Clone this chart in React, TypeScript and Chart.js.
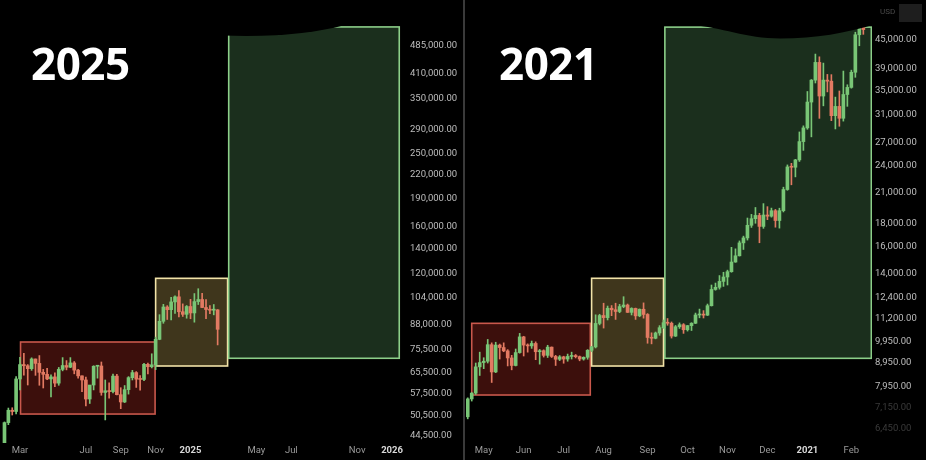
import React, { useEffect, useRef } from "react";
import { Chart, registerables } from "chart.js";

Chart.register(...registerables);

const GREEN = "#79c676";
const RED = "#e27a62";
const MS_DAY = 86400000;

// ---------------- 2025 panel (weekly candles, BTC 2024-25) ----------------
const leftBase = "2024-01-01";
const leftFirstBar = "2024-02-05";
const leftBarDays = 7;
// [open, high, low, close]
const leftCandles: number[][] = [
  [42600, 48500, 42200, 48300],
  [48300, 52800, 47700, 52100],
  [52100, 52900, 50600, 51700],
  [51700, 64000, 50900, 63100],
  [63100, 72000, 59000, 68900],
  [68900, 73800, 64600, 68400],
  [68400, 68900, 60800, 67200],
  [67200, 71800, 66500, 71300],
  [71300, 71300, 64500, 69400],
  [69400, 72800, 60700, 65700],
  [65700, 66900, 59700, 64900],
  [64900, 67300, 62800, 63100],
  [63100, 64700, 56500, 63900],
  [63900, 65500, 60200, 61500],
  [61500, 67700, 60700, 66900],
  [66900, 71900, 66300, 68500],
  [68500, 70600, 66700, 67800],
  [67800, 71900, 67600, 69600],
  [69600, 70200, 65100, 66600],
  [66600, 66900, 63400, 64300],
  [64300, 64300, 58400, 62700],
  [62700, 63800, 53500, 55800],
  [55800, 59500, 54300, 60800],
  [60800, 68400, 59000, 68200],
  [68200, 68400, 63400, 68300],
  [68300, 70000, 57100, 58100],
  [58100, 62700, 49100, 58700],
  [58700, 61600, 56100, 58400],
  [58400, 65000, 57900, 64200],
  [64200, 64900, 57200, 57300],
  [57300, 59800, 52600, 54800],
  [54800, 60600, 54600, 59100],
  [59100, 64000, 57500, 63600],
  [63600, 66500, 62700, 65600],
  [65600, 66000, 59900, 63000],
  [63000, 64400, 58900, 62900],
  [62900, 69400, 62400, 69000],
  [69000, 69500, 65100, 68000],
  [68000, 73600, 67500, 68800],
  [68800, 81500, 66800, 80400],
  [80400, 93500, 80200, 89800],
  [89800, 99600, 88700, 98000],
  [98000, 98800, 90800, 96400],
  [96400, 104000, 90500, 101100],
  [101100, 105000, 94200, 104300],
  [104300, 108300, 92200, 95200],
  [95200, 99900, 92500, 93700],
  [93700, 98900, 91500, 98300],
  [98300, 102700, 91200, 94500],
  [94500, 106400, 89300, 101300],
  [101300, 109600, 99500, 102600],
  [102600, 106500, 97600, 97700],
  [97700, 102500, 91200, 96500],
  [96500, 98900, 94100, 96100],
  [96100, 99500, 93400, 96300],
  [96300, 96500, 77700, 85500],
];
const leftYTicks = [44500, 50500, 57500, 65500, 75500, 88000, 104000, 120000, 140000, 160000, 190000, 220000, 250000, 290000, 350000, 410000, 485000];
const leftXTickDates = ["2024-03-04", "2024-07-01", "2024-09-02", "2024-11-04", "2025-01-06", "2025-05-05", "2025-07-07", "2025-11-03", "2026-01-05"];
const leftXTickLabels = ["Mar", "Jul", "Sep", "Nov", "2025", "May", "Jul", "Nov", "2026"];
const leftXMinDay = 26.9;
const leftXMaxDay = 758.4;
const leftYMin = 42634;
const leftYMax = 547100;
const leftZoneStart = ["2024-03-05", "2024-11-04", "2025-03-16"];
const leftZoneEnd = ["2024-11-03", "2025-03-14", "2026-01-18"];
const leftZoneLow = [50900, 68300, 71600];
const leftZoneHigh = [79100, 116800, 544000];

// ---------------- 2021 panel (3-day candles, BTC 2020-21) ----------------
const rightBase = "2020-01-01";
const rightFirstBar = "2020-04-21";
const rightBarDays = 3;
const rightCandles: number[][] = [
  [6840, 7520, 6770, 7480],
  [7480, 7720, 7400, 7700],
  [7700, 8950, 7650, 8780],
  [8780, 9450, 8410, 8970],
  [8970, 9190, 8700, 9030],
  [9030, 10070, 8950, 9810],
  [9810, 9900, 8120, 8560],
  [8560, 9930, 8530, 9790],
  [9790, 9840, 9130, 9670],
  [9670, 9900, 9470, 9510],
  [9510, 9570, 8820, 9180],
  [9180, 9300, 8650, 8840],
  [8840, 9600, 8820, 9430],
  [9430, 10380, 9400, 10200],
  [10200, 10230, 9270, 9790],
  [9790, 9850, 9450, 9750],
  [9750, 9990, 9630, 9870],
  [9870, 9950, 9100, 9470],
  [9470, 9580, 8900, 9520],
  [9520, 9560, 9220, 9300],
  [9300, 9780, 9200, 9690],
  [9690, 9700, 9200, 9250],
  [9250, 9300, 8840, 9120],
  [9120, 9290, 9060, 9230],
  [9230, 9260, 8940, 9130],
  [9130, 9360, 9030, 9250],
  [9250, 9450, 9130, 9290],
  [9290, 9340, 9180, 9240],
  [9240, 9270, 9050, 9130],
  [9130, 9230, 9080, 9210],
  [9210, 9570, 9120, 9540],
  [9540, 9730, 9470, 9700],
  [9700, 11390, 9650, 10910],
  [10910, 11420, 10830, 11350],
  [11350, 12070, 10660, 11230],
  [11230, 11900, 11100, 11770],
  [11770, 11930, 11340, 11680],
  [11680, 12070, 11130, 11580],
  [11580, 12000, 11510, 11870],
  [11870, 12470, 11800, 11960],
  [11960, 12020, 11520, 11530],
  [11530, 11800, 11380, 11760],
  [11760, 11780, 11130, 11330],
  [11330, 11730, 11280, 11710],
  [11710, 12090, 11200, 11410],
  [11410, 11460, 9880, 10170],
  [10170, 10410, 9850, 10130],
  [10130, 10450, 10100, 10400],
  [10400, 10790, 10280, 10680],
  [10680, 11100, 10640, 10950],
  [10950, 11180, 10810, 10920],
  [10920, 10990, 10140, 10240],
  [10240, 10800, 10220, 10730],
  [10730, 10940, 10640, 10840],
  [10840, 10900, 10380, 10570],
  [10570, 10800, 10500, 10790],
  [10790, 10950, 10530, 10920],
  [10920, 11490, 10900, 11380],
  [11380, 11720, 11220, 11430],
  [11430, 11630, 11210, 11370],
  [11370, 12020, 11350, 11920],
  [11920, 13220, 11900, 12930],
  [12930, 13350, 12880, 13070],
  [13070, 13860, 12950, 13460],
  [13460, 14090, 13130, 13760],
  [13760, 14240, 13220, 14130],
  [14130, 15960, 14090, 14830],
  [14830, 15840, 14810, 15300],
  [15300, 16480, 15280, 16320],
  [16320, 16880, 15790, 16730],
  [16730, 18480, 16550, 17820],
  [17820, 18820, 17630, 18420],
  [18420, 19480, 18000, 18720],
  [18720, 18920, 16330, 17720],
  [17720, 19860, 17550, 18760],
  [18760, 19560, 18330, 18650],
  [18650, 19420, 18560, 19170],
  [19170, 19290, 17650, 18250],
  [18250, 19410, 17570, 19170],
  [19170, 21560, 19050, 21310],
  [21310, 24100, 21230, 23860],
  [23860, 24290, 21820, 23820],
  [23820, 24780, 22700, 24710],
  [24710, 28420, 24520, 27080],
  [27080, 29300, 25920, 29000],
  [29000, 34790, 28800, 33000],
  [33000, 36940, 27730, 36820],
  [36820, 41950, 36300, 40240],
  [40240, 41380, 30420, 34010],
  [34010, 40100, 32380, 36830],
  [36830, 37890, 34720, 36630],
  [36630, 37850, 30070, 30830],
  [30830, 33830, 28850, 32290],
  [32290, 34880, 29240, 30430],
  [30430, 38530, 30000, 34270],
  [34270, 35980, 32300, 35510],
  [35510, 38710, 35370, 38300],
  [38300, 46790, 37350, 46200],
  [46200, 48680, 43730, 47970],
  [47970, 48980, 46300, 47410],
];
const rightYTicks = [6450, 7150, 7950, 8950, 9950, 11200, 12400, 14000, 16000, 18000, 21000, 24000, 27000, 31000, 35000, 39000, 45000];
const rightYTicksDim = [6450, 7150];
const rightXTickDates = ["2020-05-03", "2020-06-02", "2020-07-02", "2020-08-01", "2020-09-03", "2020-10-03", "2020-11-02", "2020-12-02", "2021-01-01", "2021-02-03"];
const rightXTickLabels = ["May", "Jun", "Jul", "Aug", "Sep", "Oct", "Nov", "Dec", "2021", "Feb"];
const rightXMinDay = 109.7;
const rightXMaxDay = 414.5;
const rightYMin = 6000;
const rightYMax = 48270;
const rightZoneStart = ["2020-04-24", "2020-07-23", "2020-09-16"];
const rightZoneEnd = ["2020-07-22", "2020-09-15", "2021-02-18"];
const rightZoneLow = [7627, 8817, 9163];
const rightZoneHigh = [10915, 13672, 48000];

// zone styles: range (red), pause (yellow), expansion (green)
const zoneFill = ["#3c0f0c", "#3f361c", "#1b2f1d"];
const zoneStroke = ["#c9584c", "#f2e3a8", "#8ccf89"];

const dayOf = (iso: string, base: string) => (Date.parse(iso) - Date.parse(base)) / MS_DAY;

const zonesPlugin = {
  id: "zones",
  beforeDatasetsDraw(chart: any, _a: any, opts: any) {
    const { ctx, chartArea: a, scales } = chart;
    const x = scales.x, y = scales.y;
    ctx.save();
    ctx.beginPath();
    ctx.rect(a.left, a.top, a.right - a.left, a.bottom - a.top);
    ctx.clip();
    (opts.zones || []).forEach((z: any) => {
      const x0 = x.getPixelForValue(z.x0);
      const x1 = x.getPixelForValue(z.x1);
      const y0 = y.getPixelForValue(z.hi);
      const y1 = y.getPixelForValue(z.lo);
      ctx.fillStyle = z.fill;
      ctx.fillRect(x0, y0, x1 - x0, y1 - y0);
      ctx.strokeStyle = z.stroke;
      ctx.lineWidth = 1.6;
      ctx.strokeRect(x0, y0, x1 - x0, y1 - y0);
    });
    ctx.restore();
  },
};

// black torn-edge overlay seen at the top of the screenshot
const maskPlugin = {
  id: "mask",
  afterDatasetsDraw(chart: any, _a: any, opts: any) {
    const m = opts.curve;
    if (!m) return;
    const { ctx } = chart;
    ctx.save();
    ctx.fillStyle = "#000";
    ctx.beginPath();
    ctx.moveTo(m[0], 0);
    ctx.lineTo(m[0], m[1]);
    for (let i = 2; i + 5 < m.length + 0; i += 6) {
      ctx.bezierCurveTo(m[i], m[i + 1], m[i + 2], m[i + 3], m[i + 4], m[i + 5]);
    }
    ctx.lineTo(m[m.length - 2], 0);
    ctx.closePath();
    ctx.fill();
    ctx.restore();
  },
};

function candleDatasets(candles: number[][], firstBar: string, base: string, step: number) {
  const start = dayOf(firstBar, base);
  const colors = candles.map((c) => (c[3] >= c[0] ? GREEN : RED));
  return [
    {
      data: candles.map((c, i) => ({ x: start + i * step, y: [c[2], c[1]] })),
      backgroundColor: colors,
      barThickness: 1,
      grouped: false,
      borderWidth: 0,
      order: 2,
    },
    {
      data: candles.map((c, i) => ({ x: start + i * step, y: [c[0], c[3]] })),
      backgroundColor: colors,
      barThickness: 3,
      grouped: false,
      borderWidth: 0,
      minBarLength: 1,
      order: 1,
    },
  ];
}

function buildConfig(p: any) {
  const tickDays = p.xTickDates.map((d: string) => dayOf(d, p.base));
  const zones = p.zoneStart.map((s: string, i: number) => ({
    x0: dayOf(s, p.base),
    x1: dayOf(p.zoneEnd[i], p.base),
    lo: p.zoneLow[i],
    hi: p.zoneHigh[i],
    fill: zoneFill[i],
    stroke: zoneStroke[i],
  }));
  return {
    type: "bar",
    data: { datasets: candleDatasets(p.candles, p.firstBar, p.base, p.step) },
    plugins: [zonesPlugin, maskPlugin],
    options: {
      responsive: false,
      animation: false,
      devicePixelRatio: 1,
      events: [],
      layout: { padding: { top: 26, left: 0, right: 0, bottom: 0 } },
      plugins: {
        legend: { display: false },
        tooltip: { enabled: false },
        zones: { zones },
        mask: { curve: p.mask },
      },
      scales: {
        x: {
          type: "linear",
          min: p.xMin,
          max: p.xMax,
          offset: false,
          grid: { display: false, drawTicks: false },
          border: { display: false },
          afterBuildTicks: (s: any) => {
            s.ticks = tickDays.map((v: number) => ({ value: v }));
          },
          afterFit: (s: any) => {
            s.height = 17;
          },
          ticks: {
            autoSkip: false,
            maxRotation: 0,
            minRotation: 0,
            padding: 2,
            callback: (_v: any, i: number) => p.xTickLabels[i],
            color: (c: any) => (/^\d{4}$/.test(p.xTickLabels[c.index]) ? "#d8d8d8" : "#9a9a9a"),
            font: (c: any) => ({
              family: "Roboto",
              size: 9.5,
              weight: /^\d{4}$/.test(p.xTickLabels[c.index]) ? "bold" : "normal",
            }),
          },
        },
        y: {
          type: "logarithmic",
          position: "right",
          min: p.yMin,
          max: p.yMax,
          grid: { display: false, drawTicks: false },
          border: { display: false },
          afterBuildTicks: (s: any) => {
            s.ticks = p.yTicks.map((v: number) => ({ value: v }));
          },
          afterFit: (s: any) => {
            s.width = p.axisWidth;
          },
          ticks: {
            autoSkip: false,
            padding: p.axisPad,
            callback: (v: any) =>
              Number(v).toLocaleString("en-US", { minimumFractionDigits: 2, maximumFractionDigits: 2 }),
            color: (c: any) => (p.dim && p.dim.includes(c.tick && c.tick.value) ? "#3a3a3a" : "#bdbdbd"),
            font: { family: "Roboto", size: 9.5 },
          },
        },
      },
    },
  };
}

const titleStyle = (left: number): React.CSSProperties => ({
  position: "absolute",
  left,
  top: 41,
  fontFamily: "'Open Sans', 'Noto Sans', sans-serif",
  fontWeight: 700,
  fontSize: 44,
  lineHeight: "44px",
  color: "#ffffff",
  letterSpacing: -0.5,
});

export default function App() {
  const leftRef = useRef<HTMLCanvasElement>(null);
  const rightRef = useRef<HTMLCanvasElement>(null);

  useEffect(() => {
    const left = new Chart(
      leftRef.current as HTMLCanvasElement,
      buildConfig({
        base: leftBase,
        firstBar: leftFirstBar,
        step: leftBarDays,
        candles: leftCandles,
        yTicks: leftYTicks,
        xTickDates: leftXTickDates,
        xTickLabels: leftXTickLabels,
        xMin: leftXMinDay,
        xMax: leftXMaxDay,
        yMin: leftYMin,
        yMax: leftYMax,
        zoneStart: leftZoneStart,
        zoneEnd: leftZoneEnd,
        zoneLow: leftZoneLow,
        zoneHigh: leftZoneHigh,
        axisWidth: 57,
        axisPad: 5,
        mask: [222, 35.5, 275, 37.5, 315, 33, 345, 25],
      }) as any
    );
    const right = new Chart(
      rightRef.current as HTMLCanvasElement,
      buildConfig({
        base: rightBase,
        firstBar: rightFirstBar,
        step: rightBarDays,
        candles: rightCandles,
        yTicks: rightYTicks,
        dim: rightYTicksDim,
        xTickDates: rightXTickDates,
        xTickLabels: rightXTickLabels,
        xMin: rightXMinDay,
        xMax: rightXMaxDay,
        yMin: rightYMin,
        yMax: rightYMax,
        zoneStart: rightZoneStart,
        zoneEnd: rightZoneEnd,
        zoneLow: rightZoneLow,
        zoneHigh: rightZoneHigh,
        axisWidth: 54,
        axisPad: 3,
        mask: [226, 25, 255, 27, 280, 38.5, 314, 38.5, 350, 38.5, 380, 33, 410, 24],
      }) as any
    );
    return () => {
      left.destroy();
      right.destroy();
    };
  }, []);

  return (
    <div style={{ position: "relative", width: 926, height: 460, background: "#000", overflow: "hidden" }}>
      <style>{`html,body{margin:0;padding:0;background:#000;}`}</style>
      <canvas ref={leftRef} width={462} height={460} style={{ position: "absolute", left: 0, top: 0, width: 462, height: 460 }} />
      <div style={{ position: "absolute", left: 463, top: 0, width: 2, height: 460, background: "#3a3a3a" }} />
      <canvas ref={rightRef} width={460} height={460} style={{ position: "absolute", left: 466, top: 0, width: 460, height: 460 }} />
      <div style={titleStyle(31)}>2025</div>
      <div style={titleStyle(499)}>2021</div>
      <div
        style={{
          position: "absolute",
          left: 880,
          top: 7,
          fontFamily: "Roboto, sans-serif",
          fontSize: 8,
          color: "#4a4a4a",
        }}
      >
        USD
      </div>
      <div style={{ position: "absolute", left: 899, top: 4, width: 23, height: 18, background: "#1e1e1e" }} />
    </div>
  );
}
